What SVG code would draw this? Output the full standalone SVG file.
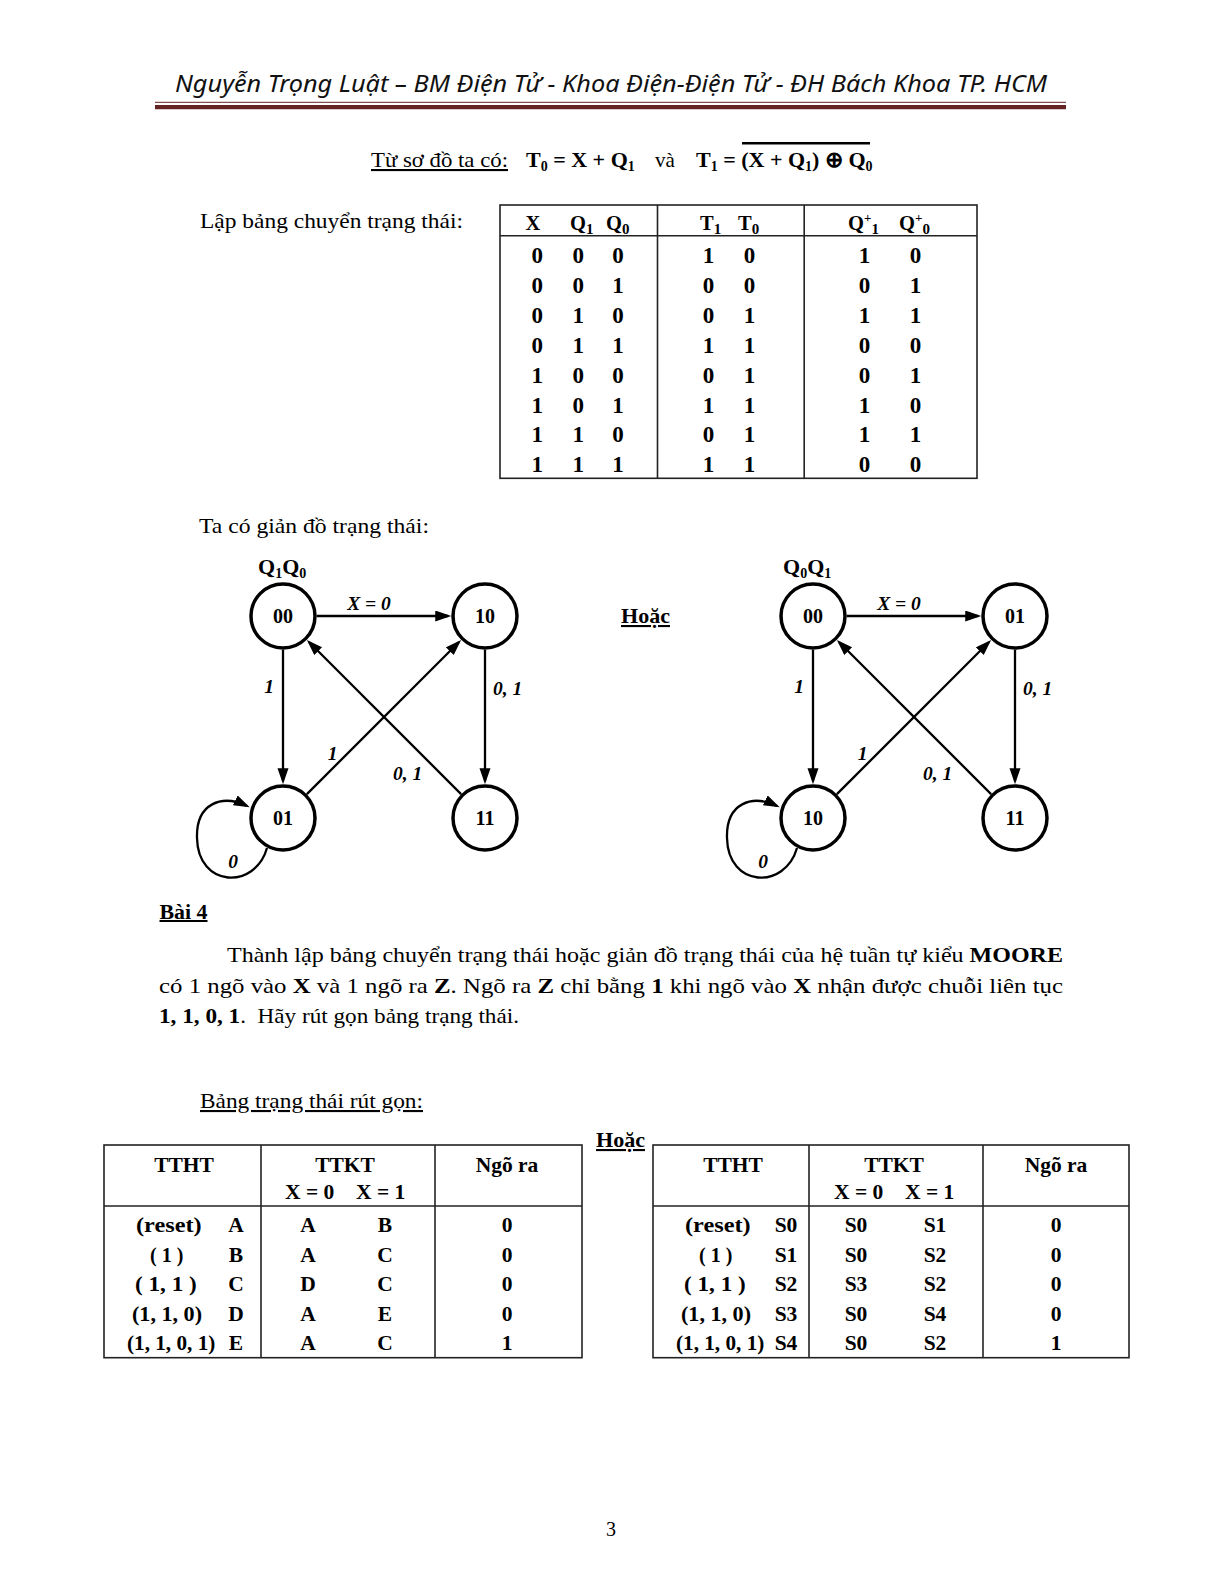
<svg xmlns="http://www.w3.org/2000/svg" width="1224" height="1584" viewBox="0 0 1224 1584">
<defs>
<style>
.ser{font-family:"Liberation Serif","Times New Roman",serif;fill:#000}
.b{font-weight:bold}
.it{font-style:italic}
.u{text-decoration:underline}
.mid{text-anchor:middle}
.node circle{fill:#fff;stroke:#000;stroke-width:3.5}
.node text{font-family:"Liberation Serif","Times New Roman",serif;font-weight:bold;font-size:20px;text-anchor:middle}
.edge{stroke:#000;stroke-width:2.3;fill:none;marker-end:url(#arr)}
.lbl{font-family:"Liberation Serif","Times New Roman",serif;font-style:italic;font-weight:bold;font-size:19.5px}
.tbl{fill:none;stroke:#222;stroke-width:1.6}
.t1d{font-family:"Liberation Serif","Times New Roman",serif;font-weight:bold;font-size:23px;text-anchor:middle}
.t2{font-family:"Liberation Serif","Times New Roman",serif;font-weight:bold;font-size:21.5px}
</style>
<marker id="arr" markerUnits="userSpaceOnUse" markerWidth="17" markerHeight="12" refX="13" refY="5.5" orient="auto">
<path d="M0,0 L16,5.5 L0,11 z" fill="#000"/>
</marker>
</defs>
<rect width="1224" height="1584" fill="#fff"/>

<!-- Header -->
<g id="header">
<text x="175" y="92" font-family="'Noto Sans','Open Sans',sans-serif" font-style="italic" font-size="23" textLength="872" lengthAdjust="spacingAndGlyphs" fill="#111">Nguyễn Trọng Luật – BM Điện Tử - Khoa Điện-Điện Tử - ĐH Bách Khoa TP. HCM</text>
<line x1="155" y1="102.3" x2="1066" y2="102.3" stroke="#632523" stroke-width="1"/>
<line x1="155" y1="107.2" x2="1066" y2="107.2" stroke="#632523" stroke-width="4.3"/>
</g>

<!-- Formula line -->
<g id="formula">
<text x="371" y="167" class="ser u" font-size="21" textLength="137" lengthAdjust="spacingAndGlyphs">Từ sơ đồ ta có:</text>
<text x="526" y="167" class="ser b" font-size="22">T<tspan font-size="14" dy="4">0</tspan><tspan dy="-4"> = X + Q</tspan><tspan font-size="14" dy="4">1</tspan></text>
<text x="655" y="167" class="ser" font-size="21">và</text>
<text x="696" y="167" class="ser b" font-size="22">T<tspan font-size="14" dy="4">1</tspan><tspan dy="-4"> = (X + Q</tspan><tspan font-size="14" dy="4">1</tspan><tspan dy="-4">) ⊕ Q</tspan><tspan font-size="14" dy="4">0</tspan></text>
<line x1="742" y1="143.3" x2="870" y2="143.3" stroke="#000" stroke-width="2.5"/>
</g>

<!-- Transition table -->
<g id="label-lap">
<text x="200" y="228.3" class="ser" font-size="22" textLength="263" lengthAdjust="spacingAndGlyphs">Lập bảng chuyển trạng thái:</text>
</g>
<g id="table1">
<rect class="tbl" x="500" y="205" width="477" height="273.3"/>
<line class="tbl" x1="657.5" y1="205" x2="657.5" y2="478.3"/>
<line class="tbl" x1="804.2" y1="205" x2="804.2" y2="478.3"/>
<line class="tbl" x1="500" y1="235.7" x2="977" y2="235.7"/>
<g class="ser b" font-size="20.5">
<text x="533" y="230" class="mid">X</text>
<text x="570" y="230">Q<tspan font-size="15" dy="4">1</tspan></text>
<text x="606" y="230">Q<tspan font-size="15" dy="4">0</tspan></text>
<text x="700" y="230">T<tspan font-size="15" dy="4">1</tspan></text>
<text x="738" y="230">T<tspan font-size="15" dy="4">0</tspan></text>
<text x="848" y="230">Q<tspan font-size="13" dy="-8">+</tspan><tspan font-size="15" dy="12">1</tspan></text>
<text x="899" y="230">Q<tspan font-size="13" dy="-8">+</tspan><tspan font-size="15" dy="12">0</tspan></text>
</g>
<g class="t1d">
<text x="537.3" y="263">0</text><text x="578.2" y="263">0</text><text x="618.1" y="263">0</text><text x="708.6" y="263">1</text><text x="749.5" y="263">0</text><text x="864.5" y="263">1</text><text x="915.6" y="263">0</text>
<text x="537.3" y="292.9">0</text><text x="578.2" y="292.9">0</text><text x="618.1" y="292.9">1</text><text x="708.6" y="292.9">0</text><text x="749.5" y="292.9">0</text><text x="864.5" y="292.9">0</text><text x="915.6" y="292.9">1</text>
<text x="537.3" y="322.8">0</text><text x="578.2" y="322.8">1</text><text x="618.1" y="322.8">0</text><text x="708.6" y="322.8">0</text><text x="749.5" y="322.8">1</text><text x="864.5" y="322.8">1</text><text x="915.6" y="322.8">1</text>
<text x="537.3" y="352.7">0</text><text x="578.2" y="352.7">1</text><text x="618.1" y="352.7">1</text><text x="708.6" y="352.7">1</text><text x="749.5" y="352.7">1</text><text x="864.5" y="352.7">0</text><text x="915.6" y="352.7">0</text>
<text x="537.3" y="382.6">1</text><text x="578.2" y="382.6">0</text><text x="618.1" y="382.6">0</text><text x="708.6" y="382.6">0</text><text x="749.5" y="382.6">1</text><text x="864.5" y="382.6">0</text><text x="915.6" y="382.6">1</text>
<text x="537.3" y="412.5">1</text><text x="578.2" y="412.5">0</text><text x="618.1" y="412.5">1</text><text x="708.6" y="412.5">1</text><text x="749.5" y="412.5">1</text><text x="864.5" y="412.5">1</text><text x="915.6" y="412.5">0</text>
<text x="537.3" y="442.4">1</text><text x="578.2" y="442.4">1</text><text x="618.1" y="442.4">0</text><text x="708.6" y="442.4">0</text><text x="749.5" y="442.4">1</text><text x="864.5" y="442.4">1</text><text x="915.6" y="442.4">1</text>
<text x="537.3" y="472.3">1</text><text x="578.2" y="472.3">1</text><text x="618.1" y="472.3">1</text><text x="708.6" y="472.3">1</text><text x="749.5" y="472.3">1</text><text x="864.5" y="472.3">0</text><text x="915.6" y="472.3">0</text>
</g>
</g>

<g id="label-ta">
<text x="199" y="533" class="ser" font-size="22" textLength="230" lengthAdjust="spacingAndGlyphs">Ta có giản đồ trạng thái:</text>
</g>

<!-- Diagram labels -->
<g id="label-q1q0"><text x="258" y="574" class="ser b" font-size="22">Q<tspan font-size="14" dy="4">1</tspan><tspan dy="-4">Q</tspan><tspan font-size="14" dy="4">0</tspan></text></g>
<g id="label-q0q1"><text x="783" y="574" class="ser b" font-size="22">Q<tspan font-size="14" dy="4">0</tspan><tspan dy="-4">Q</tspan><tspan font-size="14" dy="4">1</tspan></text></g>
<g id="label-hoac1"><text x="621" y="623" class="ser b u" font-size="21" textLength="49" lengthAdjust="spacingAndGlyphs">Hoặc</text></g>

<!-- Connectors -->
<g id="connectors">
<path class="edge" d="M316.75 616 L448.25 616"/>
<path class="edge" d="M283 649.75 L283 781.25"/>
<path class="edge" d="M485 649.75 L485 781.25"/>
<path class="edge" d="M306.9 794.1 L459 642"/>
<path class="edge" d="M461.1 794.1 L309 642"/>
<path class="edge" d="M267 848 C255 890 198 888 197 838 C196 803 222 794 247 806"/>

<path class="edge" d="M846.75 616 L978.25 616"/>
<path class="edge" d="M813 649.75 L813 781.25"/>
<path class="edge" d="M1015 649.75 L1015 781.25"/>
<path class="edge" d="M836.9 794.1 L989 642"/>
<path class="edge" d="M991.1 794.1 L839 642"/>
<path class="edge" d="M797 848 C785 890 728 888 727 838 C726 803 752 794 777 806"/>

<g class="lbl">
<text x="369" y="610" text-anchor="middle">X = 0</text>
<text x="269" y="693" text-anchor="middle">1</text>
<text x="493" y="695">0, 1</text>
<text x="332.5" y="760" text-anchor="middle">1</text>
<text x="393" y="780">0, 1</text>
<text x="233" y="868" text-anchor="middle">0</text>

<text x="899" y="610" text-anchor="middle">X = 0</text>
<text x="799" y="693" text-anchor="middle">1</text>
<text x="1023" y="695">0, 1</text>
<text x="862.5" y="760" text-anchor="middle">1</text>
<text x="923" y="780">0, 1</text>
<text x="763" y="868" text-anchor="middle">0</text>
</g>
</g>

<!-- Nodes left -->
<g id="L00" class="node"><circle cx="283" cy="616" r="32"/><text x="283" y="623">00</text></g>
<g id="L10" class="node"><circle cx="485" cy="616" r="32"/><text x="485" y="623">10</text></g>
<g id="L01" class="node"><circle cx="283" cy="818" r="32"/><text x="283" y="825">01</text></g>
<g id="L11" class="node"><circle cx="485" cy="818" r="32"/><text x="485" y="825">11</text></g>
<!-- Nodes right -->
<g id="R00" class="node"><circle cx="813" cy="616" r="32"/><text x="813" y="623">00</text></g>
<g id="R01" class="node"><circle cx="1015" cy="616" r="32"/><text x="1015" y="623">01</text></g>
<g id="R10" class="node"><circle cx="813" cy="818" r="32"/><text x="813" y="825">10</text></g>
<g id="R11" class="node"><circle cx="1015" cy="818" r="32"/><text x="1015" y="825">11</text></g>

<!-- Bai 4 -->
<g id="bai4">
<text x="159.5" y="919" class="ser b u" font-size="20" textLength="48" lengthAdjust="spacingAndGlyphs">Bài 4</text>
<text x="227" y="962" class="ser" font-size="21" textLength="836" lengthAdjust="spacingAndGlyphs">Thành lập bảng chuyển trạng thái hoặc giản đồ trạng thái của hệ tuần tự kiểu <tspan font-weight="bold">MOORE</tspan></text>
<text x="159" y="992.5" class="ser" font-size="21" textLength="904" lengthAdjust="spacingAndGlyphs">có 1 ngõ vào <tspan font-weight="bold">X</tspan> và 1 ngõ ra <tspan font-weight="bold">Z</tspan>. Ngõ ra <tspan font-weight="bold">Z</tspan> chỉ bằng <tspan font-weight="bold">1</tspan> khi ngõ vào <tspan font-weight="bold">X</tspan> nhận được chuỗi liên tục</text>
<text x="159" y="1023" class="ser" font-size="21" textLength="360" lengthAdjust="spacingAndGlyphs" xml:space="preserve"><tspan font-weight="bold">1, 1, 0, 1</tspan>.  Hãy rút gọn bảng trạng thái.</text>
<text x="200" y="1108" class="ser u" font-size="21" textLength="223" lengthAdjust="spacingAndGlyphs">Bảng trạng thái rút gọn:</text>
</g>

<g id="label-hoac2"><text x="596" y="1147" class="ser b u" font-size="21" textLength="49" lengthAdjust="spacingAndGlyphs">Hoặc</text></g>

<!-- Reduced table A-E -->
<g id="table2">
<rect class="tbl" x="104" y="1145" width="478" height="212.7"/>
<line class="tbl" x1="261" y1="1145" x2="261" y2="1357.7"/>
<line class="tbl" x1="435" y1="1145" x2="435" y2="1357.7"/>
<line class="tbl" x1="104" y1="1206" x2="582" y2="1206"/>
<g class="t2">
<text x="184" y="1171.5" text-anchor="middle">TTHT</text>
<text x="345" y="1171.5" text-anchor="middle">TTKT</text>
<text x="507" y="1171.5" text-anchor="middle">Ngõ ra</text>
<text x="285" y="1198.5">X = 0</text>
<text x="356" y="1198.5">X = 1</text>

<text x="136" y="1232" textLength="65.7" lengthAdjust="spacingAndGlyphs">(reset)</text>
<text x="150" y="1261.5" textLength="33.3" lengthAdjust="spacingAndGlyphs">( 1 )</text>
<text x="135" y="1291" textLength="61.7" lengthAdjust="spacingAndGlyphs">( 1, 1 )</text>
<text x="132" y="1320.5" textLength="70" lengthAdjust="spacingAndGlyphs">(1, 1, 0)</text>
<text x="127" y="1350" textLength="88.3" lengthAdjust="spacingAndGlyphs">(1, 1, 0, 1)</text>
<g text-anchor="middle">
<text x="236" y="1232">A</text><text x="308" y="1232">A</text><text x="385" y="1232">B</text><text x="507" y="1232">0</text>
<text x="236" y="1261.5">B</text><text x="308" y="1261.5">A</text><text x="385" y="1261.5">C</text><text x="507" y="1261.5">0</text>
<text x="236" y="1291">C</text><text x="308" y="1291">D</text><text x="385" y="1291">C</text><text x="507" y="1291">0</text>
<text x="236" y="1320.5">D</text><text x="308" y="1320.5">A</text><text x="385" y="1320.5">E</text><text x="507" y="1320.5">0</text>
<text x="236" y="1350">E</text><text x="308" y="1350">A</text><text x="385" y="1350">C</text><text x="507" y="1350">1</text>
</g>
</g>
</g>

<!-- Reduced table S0-S4 -->
<g id="table3">
<rect class="tbl" x="653" y="1145" width="476" height="212.7"/>
<line class="tbl" x1="809" y1="1145" x2="809" y2="1357.7"/>
<line class="tbl" x1="983" y1="1145" x2="983" y2="1357.7"/>
<line class="tbl" x1="653" y1="1206" x2="1129" y2="1206"/>
<g class="t2">
<text x="733" y="1171.5" text-anchor="middle">TTHT</text>
<text x="894" y="1171.5" text-anchor="middle">TTKT</text>
<text x="1056" y="1171.5" text-anchor="middle">Ngõ ra</text>
<text x="834" y="1198.5">X = 0</text>
<text x="905" y="1198.5">X = 1</text>

<text x="685" y="1232" textLength="65.7" lengthAdjust="spacingAndGlyphs">(reset)</text>
<text x="699" y="1261.5" textLength="33.3" lengthAdjust="spacingAndGlyphs">( 1 )</text>
<text x="684" y="1291" textLength="61.7" lengthAdjust="spacingAndGlyphs">( 1, 1 )</text>
<text x="681" y="1320.5" textLength="70" lengthAdjust="spacingAndGlyphs">(1, 1, 0)</text>
<text x="676" y="1350" textLength="88.3" lengthAdjust="spacingAndGlyphs">(1, 1, 0, 1)</text>
<g text-anchor="middle">
<text x="786" y="1232">S0</text><text x="856" y="1232">S0</text><text x="935" y="1232">S1</text><text x="1056" y="1232">0</text>
<text x="786" y="1261.5">S1</text><text x="856" y="1261.5">S0</text><text x="935" y="1261.5">S2</text><text x="1056" y="1261.5">0</text>
<text x="786" y="1291">S2</text><text x="856" y="1291">S3</text><text x="935" y="1291">S2</text><text x="1056" y="1291">0</text>
<text x="786" y="1320.5">S3</text><text x="856" y="1320.5">S0</text><text x="935" y="1320.5">S4</text><text x="1056" y="1320.5">0</text>
<text x="786" y="1350">S4</text><text x="856" y="1350">S0</text><text x="935" y="1350">S2</text><text x="1056" y="1350">1</text>
</g>
</g>
</g>

<g id="pagenum"><text x="611" y="1536" class="ser mid" font-size="20">3</text></g>
</svg>
